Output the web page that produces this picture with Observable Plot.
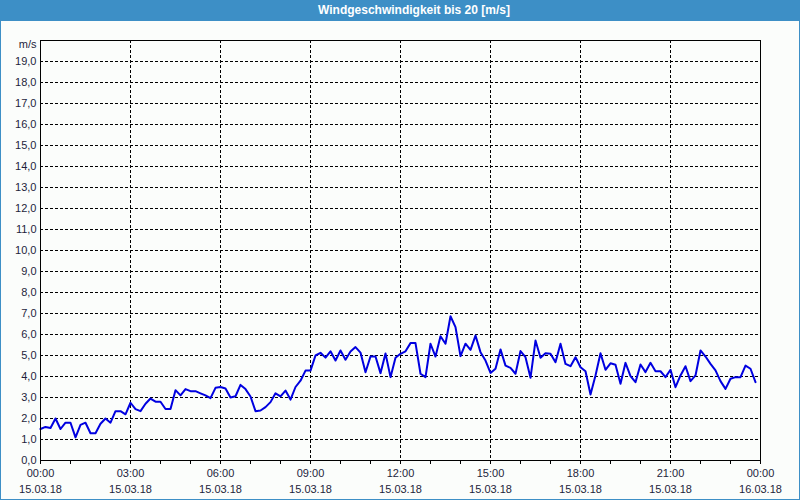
<!DOCTYPE html>
<html><head><meta charset="utf-8">
<script src="https://cdn.jsdelivr.net/npm/d3@7"></script>
<script src="https://cdn.jsdelivr.net/npm/@observablehq/plot@0.6"></script>
<style>
html,body{margin:0;padding:0;background:#fbfdfb;}
#wrap{position:relative;width:800px;height:500px;overflow:hidden;background:#fbfdfb;font-family:"Liberation Sans",Arial,sans-serif;}
#title{position:absolute;left:0;top:0;width:800px;height:21px;box-sizing:border-box;padding-left:28px;background:#3d8fc6;color:#fff;font-weight:bold;font-size:12px;line-height:21px;text-align:center;}
#chart{position:absolute;left:0;top:21px;}
#border{position:absolute;left:0;top:0;width:798px;height:498px;border:1px solid #3d8fc6;pointer-events:none;}
</style>
</head><body>
<div id="wrap">
  <div id="title">Windgeschwindigkeit bis 20 [m/s]</div>
  <div id="chart"></div>
  <div id="border"></div>
</div>
<script>
// ---- data ----
const startTime = "2018-03-15T00:00:00Z";
const endTime = "2018-03-16T00:00:00Z";
const stepMinutes = 10;
const speeds = [
  1.5, 1.6, 1.55, 2.0, 1.5, 1.8, 1.8, 1.1, 1.7, 1.8,
  1.3, 1.3, 1.75, 2.0, 1.8, 2.35, 2.35, 2.2, 2.75, 2.45,
  2.35, 2.7, 2.95, 2.8, 2.8, 2.45, 2.45, 3.35, 3.1, 3.4,
  3.3, 3.3, 3.2, 3.1, 2.97, 3.46, 3.5, 3.43, 3.0, 3.06,
  3.6, 3.4, 3.05, 2.35, 2.38, 2.54, 2.78, 3.2, 3.05, 3.33,
  2.9, 3.5, 3.8, 4.28, 4.28, 5.0, 5.13, 4.9, 5.2, 4.76,
  5.24, 4.8, 5.19, 5.4, 5.14, 4.2, 4.95, 4.95, 4.16, 5.1,
  3.97, 4.89, 5.08, 5.2, 5.59, 5.59, 4.13, 3.97, 5.56, 4.95,
  5.92, 5.56, 6.87, 6.35, 4.97, 5.56, 5.27, 5.95, 5.16, 4.76,
  4.17, 4.37, 5.29, 4.52, 4.41, 4.13, 5.21, 4.92, 3.94, 5.71,
  4.89, 5.11, 5.08, 4.68, 5.56, 4.6, 4.49, 4.92, 4.44, 4.25,
  3.14, 4.05, 5.11, 4.32, 4.63, 4.56, 3.65, 4.65, 4.02, 3.73,
  4.57, 4.21, 4.65, 4.25, 4.25, 3.97, 4.32, 3.49, 4.05, 4.49,
  3.78, 4.05, 5.24, 4.95, 4.6, 4.29, 3.78, 3.41, 3.89, 3.97,
  3.97, 4.52, 4.37, 3.73
];
const labelHours = [0, 3, 6, 9, 12, 15, 18, 21, 24];
const gridHours = [3, 6, 9, 12, 15, 18, 21];
const minorHours = d3.range(0, 25);
const yTicks = d3.range(0, 20);
const yGrid = d3.range(1, 20);
const yUnit = "m/s";
const yMax = 20;

// ---- build ----
const t0 = Date.parse(startTime);
const hourDate = h => new Date(t0 + h * 3600000);
const rows = speeds.map((v, i) => ({time: new Date(t0 + i * stepMinutes * 60000), speed: v}));
const fmt = d3.utcFormat("%H:%M\n%d.%m.%y");
const ink = "#1e1e3c";

const chart = Plot.plot({
  width: 800,
  height: 479,
  marginLeft: 40,
  marginRight: 40,
  marginTop: 19,
  marginBottom: 40,
  style: {fontFamily: '"Liberation Sans", Arial, sans-serif', fontSize: "11px", background: "transparent", color: ink},
  x: {type: "utc", domain: [new Date(t0), new Date(Date.parse(endTime))]},
  y: {domain: [0, yMax]},
  marks: [
    Plot.ruleY(yGrid, {stroke: "#000", strokeDasharray: "3,2", strokeWidth: 1}),
    Plot.ruleX(gridHours.map(hourDate), {stroke: "#000", strokeDasharray: "3,2", strokeWidth: 1}),
    Plot.line(rows, {x: "time", y: "speed", stroke: "#0000e0", strokeWidth: 2}),
    Plot.frame({stroke: "#000", strokeWidth: 1}),
    Plot.axisX(minorHours.map(hourDate), {tickSize: 4, tickFormat: () => "", stroke: "#000"}),
    Plot.axisX(labelHours.map(hourDate), {tickSize: 0, tickPadding: 5, tickFormat: fmt, lineHeight: 1.45, fill: ink}),
    Plot.axisY(yTicks, {tickSize: 0, tickPadding: 4, tickFormat: d => d.toFixed(1).replace(".", ","), fill: ink, label: null}),
    Plot.text([yUnit], {frameAnchor: "top-left", dx: -4, dy: 0, textAnchor: "end", fill: ink})
  ]
});
document.getElementById("chart").appendChild(chart);
</script>
</body></html>
